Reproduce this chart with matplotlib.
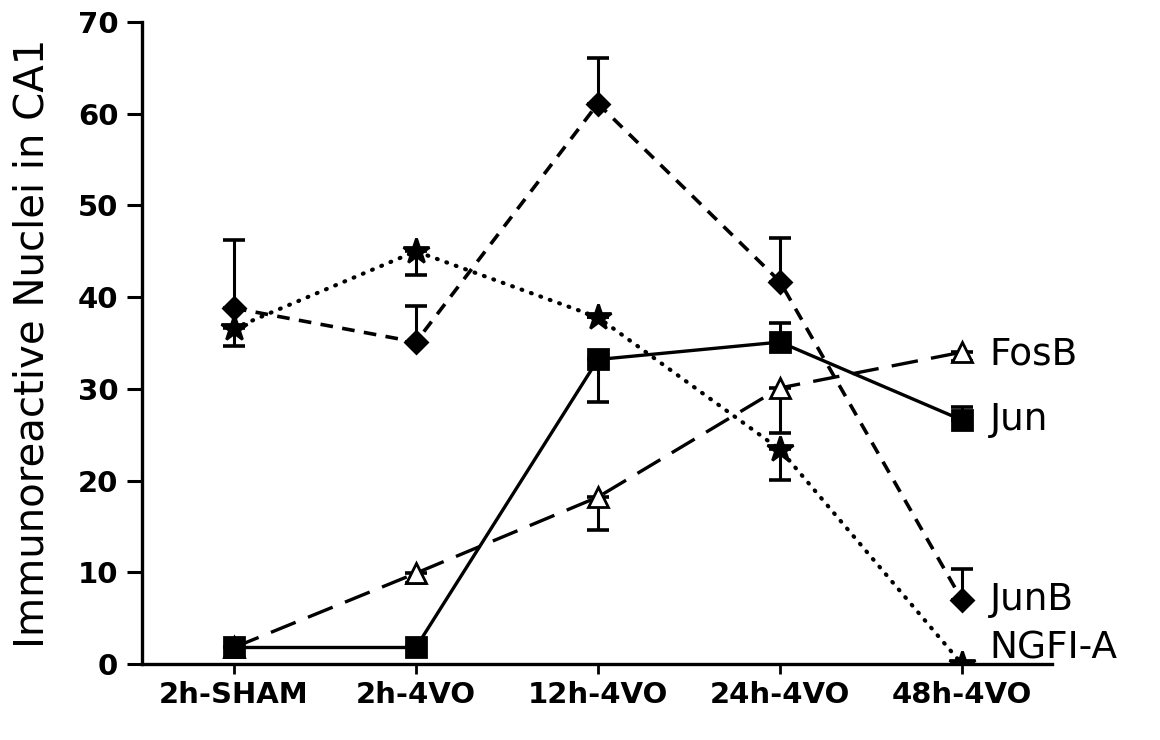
import matplotlib
matplotlib.use("Agg")
import matplotlib.pyplot as plt

# Time points after four-vessel occlusion
groups = ["2h-SHAM", "2h-4VO", "12h-4VO", "24h-4VO", "48h-4VO"]

# Mean immunoreactive nuclei counts in CA1
fosb = [1.8, 9.9, 18.2, 30.1, 34.0]
jun = [1.8, 1.8, 33.2, 35.1, 26.6]
junb = [38.8, 35.1, 61.1, 41.7, 7.0]
ngfia = [36.6, 45.0, 37.8, 23.4, 0.0]

# One-sided error bars (lower, upper)
fosb_err_lo = [0, 1.1, 3.6, 4.9, 1.0]
fosb_err_hi = [0, 0, 0, 0, 0]
jun_err_lo = [0, 0, 4.6, 0, 0]
jun_err_hi = [0, 0, 0, 2.1, 1.4]
junb_err_lo = [0, 0, 0, 0, 0]
junb_err_hi = [7.4, 3.9, 5.0, 4.8, 3.4]
ngfia_err_lo = [1.9, 2.6, 0, 3.3, 0]
ngfia_err_hi = [0, 0, 0, 0, 0]

plt.rcParams["font.family"] = ["DejaVu Sans"]

fig = plt.figure(figsize=(11.6, 7.4), dpi=100)
ax = fig.add_axes([0.1224, 0.1027, 0.7845, 0.8676])

x = list(range(len(groups)))
ink = "black"

# drawn in this order so the Jun squares sit on top of the FosB triangles
series = [
    (fosb, fosb_err_lo, fosb_err_hi, (0, (8, 4)), "^", 14, "white", "FosB", 2.4),
    (jun, jun_err_lo, jun_err_hi, "-", "s", 14, ink, "Jun", 2.4),
    (junb, junb_err_lo, junb_err_hi, (0, (3.5, 2.6)), "D", 11, ink, "JunB", 2.6),
    (ngfia, ngfia_err_lo, ngfia_err_hi, (0, (0.2, 2.2)), "*", 19, ink, "NGFI-A", 3.0),
]

for i, (vals, lo, hi, ls, mk, ms, face, name, lw) in enumerate(series):
    z = 2 + i
    ax.errorbar(x, vals, yerr=[lo, hi], fmt="none", ecolor=ink,
                elinewidth=2.2, capsize=8, capthick=2.6, zorder=z)
    ax.plot(x, vals, linestyle=ls, color=ink, linewidth=lw,
            dash_capstyle="round" if name == "NGFI-A" else "butt",
            marker=mk, markersize=ms, markerfacecolor=face,
            markeredgecolor=ink, markeredgewidth=2.0, zorder=z + 0.5)

# Series names beside the last time point
label_offsets = {
    "FosB": (fosb[-1], (20, -2)),
    "Jun": (jun[-1], (20, 0)),
    "JunB": (junb[-1], (20, 0)),
    "NGFI-A": (ngfia[-1], (20, 11)),
}
for name, (yv, off) in label_offsets.items():
    ax.annotate(name, xy=(x[-1], yv), xytext=off, textcoords="offset points",
                ha="left", va="center", fontsize=27)

ax.set_xlim(-0.505, 4.495)
ax.set_ylim(0, 70)
ax.set_yticks(range(0, 71, 10))
ax.set_xticks(x)
ax.set_xticklabels(groups, fontsize=21, fontweight="bold")
for lab in ax.get_yticklabels():
    lab.set_fontsize(21)
    lab.set_fontweight("bold")

ax.set_ylabel("Immunoreactive Nuclei in CA1", fontsize=29, labelpad=18)

for side in ("top", "right"):
    ax.spines[side].set_visible(False)
for side in ("left", "bottom"):
    ax.spines[side].set_linewidth(2.4)

ax.tick_params(axis="y", direction="out", length=11, width=2.2, pad=6)
ax.tick_params(axis="x", direction="out", length=7, width=2.0, pad=5)

fig.savefig("out.png", dpi=100)
